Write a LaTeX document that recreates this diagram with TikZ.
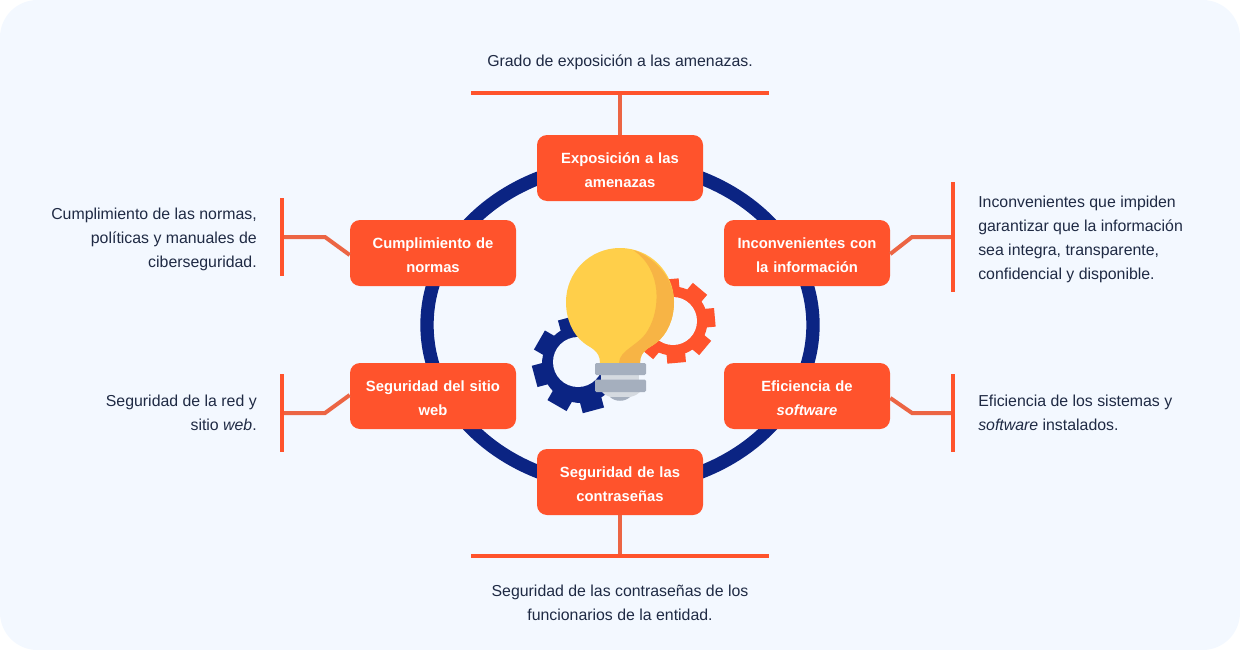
\documentclass[tikz,border=0pt]{standalone}
\usepackage{fontspec}
\setmainfont{Liberation Sans}
\definecolor{pagebg}{HTML}{F3F8FF}
\definecolor{boxred}{HTML}{FF532C}
\definecolor{stemred}{HTML}{EC6544}
\definecolor{ringblue}{HTML}{0B2483}
\definecolor{inktext}{HTML}{1F2A44}
\definecolor{bulbyellow}{HTML}{FFCF4A}
\definecolor{bulbshade}{HTML}{F7B445}
\definecolor{basegrey}{HTML}{A5AFBE}
\definecolor{baselight}{HTML}{D5DAE0}
\tikzset{
  causebox/.style={fill=boxred, rounded corners=7.5pt, minimum width=124.5pt, minimum height=49.5pt,
    text width=120pt, align=center, text=white, font=\fontsize{11.1}{18}\selectfont\bfseries, inner sep=0pt,
    execute at begin node=\rule{0pt}{11pt}},
  note/.style={text=inktext, font=\fontsize{11.9}{18}\selectfont, inner sep=0pt},
  bar/.style={draw=boxred, line width=3pt},
  stem/.style={draw=stemred, line width=3pt},
}
\begin{document}
\begin{tikzpicture}[x=0.75pt,y=-0.75pt]
\useasboundingbox (0,0) rectangle (1240,650);
\fill [pagebg] (0,0) [rounded corners=28pt] rectangle (1240,650);

% ring
\draw [ringblue, line width=10pt] (620,325) ellipse (193 and 162);

% gears
\fill [ringblue] (581,364) circle (39);
\foreach \a in {30,75,...,345}
  \draw [ringblue, line width=16.5pt] ([shift={(\a:30)}]581,364) -- ([shift={(\a:48)}]581,364);
\fill [pagebg] (578,362) circle (25);
\fill [boxred] (673,321) circle (34.5);
\foreach \a in {-95,-50,...,220}
  \draw [boxred, line width=14pt] ([shift={(\a:30)}]673,321) -- ([shift={(\a:42)}]673,321);
\fill [pagebg] (673,321) circle (24);

% bulb
\fill [baselight] (601,370) rectangle (639,385);
\fill [baselight] (602,392) .. controls (607,400) and (633,400) .. (640,392) -- cycle;
\fill [basegrey] (610,397) .. controls (615,402) and (625,402) .. (630,397) -- cycle;
\fill [bulbyellow] (600,363) .. controls (600,350) and (590,348) .. (584,343)
  .. controls (572,334) and (566,318) .. (566,302)
  .. controls (566,272) and (590,248) .. (620,248)
  .. controls (650,248) and (674,272) .. (674,302)
  .. controls (674,318) and (668,334) .. (656,343)
  .. controls (650,348) and (640,350) .. (640,363) -- cycle;
\fill [bulbshade] (633,250) .. controls (650,255) and (674,275) .. (674,302)
  .. controls (674,318) and (668,334) .. (656,343)
  .. controls (650,348) and (640,350) .. (640,363) -- (619,363)
  .. controls (619,350) and (640,345) .. (648,330)
  .. controls (660,310) and (663,270) .. (633,250) -- cycle;
\fill [basegrey, rounded corners=1pt] (595,363) rectangle (646,375);
\fill [basegrey, rounded corners=1pt] (595,379.5) rectangle (646,392);

% boxes
\node [causebox] (expo) at (620,168) {Exposición a las\\amenazas};
\node [causebox] (norm) at (433,253) {Cumplimiento de\\normas};
\node [causebox] (info) at (807,253) {Inconvenientes con\\la información};
\node [causebox] (site) at (433,396) {Seguridad del sitio\\web};
\node [causebox] (soft) at (807,396) {Eficiencia de\\\textit{software}};
\node [causebox] (pass) at (620,482) {Seguridad de las\\contraseñas};

% bars
\coordinate (exporoot) at (620,93);
\coordinate (normroot) at (282,237);
\coordinate (inforoot) at (953,237);
\coordinate (siteroot) at (282,413);
\coordinate (softroot) at (953,413);
\coordinate (passroot) at (620,556);

\draw [stem] (expo.north) -- (exporoot);
\draw [stem] (pass.south) -- (passroot);
\draw [stem] (norm.west |- 0,255) -- (325,237) -- (normroot);
\draw [stem] (info.east |- 0,254) -- (912,237) -- (inforoot);
\draw [stem] (site.west |- 0,395) -- (325,413) -- (siteroot);
\draw [stem] (soft.east |- 0,398) -- (912,413) -- (softroot);

\draw [bar] (471,93) -- (769,93);
\draw [bar] (471,556) -- (769,556);
\draw [bar] (282,198) -- (282,276);
\draw [bar] (953,182) -- (953,292);
\draw [bar] (282,374) -- (282,452);
\draw [bar] (953,374) -- (953,452);

% texts
\node [note, align=center] (expotext) at (620,62.5) {Grado de exposición a las amenazas.};
\node [note, align=right, left] (normtext) at (257,239) {Cumplimiento de las normas,\\políticas y manuales de\\ciberseguridad.};
\node [note, align=left, right] (infotext) at (978,239) {Inconvenientes que impiden\\garantizar que la información\\sea integra, transparente,\\confidencial y disponible.};
\node [note, align=right, left] (sitetext) at (257,413) {Seguridad de la red y\\sitio \textit{web}.};
\node [note, align=left, right] (softtext) at (978,413) {Eficiencia de los sistemas y\\\textit{software} instalados.};
\node [note, align=center] (passtext) at (620,602.5) {Seguridad de las contraseñas de los\\funcionarios de la entidad.};
\end{tikzpicture}
\end{document}
